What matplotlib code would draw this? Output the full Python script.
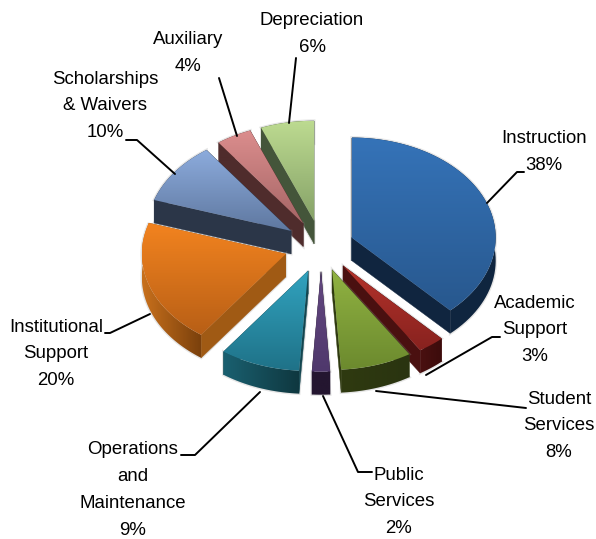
import numpy as np
import matplotlib
matplotlib.use("Agg")
import matplotlib.pyplot as plt
from matplotlib.patches import Polygon
from matplotlib.colors import LinearSegmentedColormap

plt.rcParams['font.family'] = ['Liberation Sans', 'DejaVu Sans']

names = ["Instruction", "Academic\nSupport", "Student\nServices", "Public\nServices",
         "Operations\nand\nMaintenance", "Institutional\nSupport", "Scholarships\n& Waivers",
         "Auxiliary", "Depreciation"]
shares = [38, 3, 8, 2, 9, 20, 10, 4, 6]

# top colour, bottom colour, cut wall, outer wall left, outer wall right
top_c1 = ["#3573B8", "#B5332B", "#90B242", "#634780", "#31A2BE", "#F2831F", "#8CABDC", "#DB8D8D", "#BCDA90"]
top_c2 = ["#28588E", "#88221F", "#6C8A2E", "#4F386C", "#1F7288", "#B85F16", "#5F78A0", "#A66666", "#86A268"]
wall_c = ["#10253F", "#4A1010", "#2F3A10", "#241630", "#134650", "#A05A14", "#2B3648", "#4F2C2C", "#44553A"]
outer_l = ["#0F2640", "#4A1010", "#2F3A10", "#241630", "#1A6070", "#C8701C", "#2B3648", "#4F2C2C", "#44553A"]
outer_r = ["#10253F", "#3C0C0C", "#2A3410", "#241630", "#0F3840", "#7A400C", "#2B3648", "#4F2C2C", "#44553A"]

explode = [33, 36, 36, 37, 38, 37, 37, 37, 37]
cx, cy = 321, 246
rx, ry = 144, 100
depth = 23

# text centre, leader line
label_xy = [(544, 152), (535, 330), (559, 426), (399, 502), (133, 490), (56, 354), (105, 106), (188, 53), (312, 34)]
leaders = [
    [(487, 203), (517, 172), (524, 172)],
    [(426, 375), (492, 337), (500, 337)],
    [(376, 391), (526, 408)],
    [(323, 396), (358, 472), (372, 472)],
    [(260, 392), (195, 455), (181, 455)],
    [(150, 314), (110, 333), (105, 333)],
    [(175, 174), (137, 140), (126, 140)],
    [(237, 136), (219, 78)],
    [(289, 123), (296, 58)],
]


def grad_fill(ax, pts, c1, c2, vertical=True, z=1):
    pts = np.array(pts)
    cmap = LinearSegmentedColormap.from_list("g", [c1, c2])
    patch = Polygon(pts, closed=True, fc="none", ec="none", zorder=z)
    ax.add_patch(patch)
    g = np.linspace(0, 1, 64)
    g = g[:, None] if vertical else g[None, :]
    im = ax.imshow(g, cmap=cmap, aspect="auto", zorder=z, interpolation="bilinear",
                   extent=(pts[:, 0].min(), pts[:, 0].max(), pts[:, 1].max(), pts[:, 1].min()))
    im.set_clip_path(patch)


fig = plt.figure(figsize=(5.96, 5.39), dpi=100)
ax = fig.add_axes([0, 0, 1, 1])
ax.axis("off")

edges = np.cumsum([0] + shares) / 100 * 360
slices = []
for i in range(len(shares)):
    a0, a1 = np.radians(edges[i]), np.radians(edges[i + 1])
    mid = (a0 + a1) / 2
    ax0 = cx + explode[i] * np.sin(mid)
    ay0 = cy - explode[i] * np.cos(mid) * ry / rx
    t = np.linspace(a0, a1, 60)
    arc = np.column_stack([ax0 + rx * np.sin(t), ay0 - ry * np.cos(t)])
    slices.append((ay0 - ry * np.cos(mid), i, (ax0, ay0), arc))

# back slices first
z = 1
for _, i, apex, arc in sorted(slices, key=lambda s: s[0]):
    d = np.array([0, depth])
    # soft shadow
    top = np.vstack([[apex], arc])
    ax.add_patch(Polygon(np.vstack([top, top[::-1] + d]), closed=True, fc="#999999", ec="#999999",
                         lw=2, alpha=0.25, zorder=z))
    z += 1
    for p in (arc[0], arc[-1]):
        ax.add_patch(Polygon([apex, p, p + d, np.array(apex) + d], closed=True, fc=wall_c[i], ec=wall_c[i],
                             lw=0.3, zorder=z))
        z += 1
    outer = np.vstack([arc, arc[::-1] + d])
    grad_fill(ax, outer, outer_l[i] if arc[0, 0] > arc[-1, 0] else outer_r[i],
              outer_r[i] if arc[0, 0] > arc[-1, 0] else outer_l[i], vertical=False, z=z)
    z += 1
    grad_fill(ax, top, top_c1[i], top_c2[i], z=z)
    z += 1

for i, pts in enumerate(leaders):
    pts = np.array(pts)
    ax.plot(pts[:, 0], pts[:, 1], color="black", lw=1.4, zorder=z, solid_capstyle="round")
    ax.text(label_xy[i][0], label_xy[i][1], names[i] + "\n" + str(shares[i]) + "%", ha="center", va="center",
            fontsize=13.4, linespacing=1.75, color="black", zorder=z)

ax.set_xlim(0, 596)
ax.set_ylim(539, 0)
fig.savefig("out.png", dpi=100, facecolor="white")
